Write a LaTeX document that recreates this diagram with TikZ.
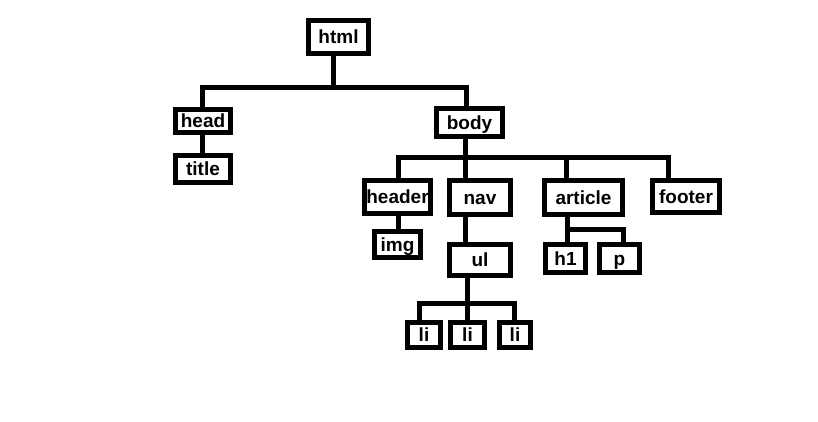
\documentclass[tikz,border=0pt]{standalone}
\usepackage{fontspec}
\setmainfont{Liberation Sans}
\begin{document}
\begin{tikzpicture}[x=1pt,y=-1pt,
  box/.style={draw=black,line width=5pt,fill=white,inner sep=0pt,
    text height=13.5pt,text depth=0pt,
    font=\fontsize{19}{20}\selectfont\bfseries},
  conn/.style={draw=black,line width=5pt,line join=miter}]
\useasboundingbox[fill=white] (0,0) rectangle (818,422);
% nodes (outer size minus line width)
\node[box,minimum width=60pt,minimum height=33pt] (html) at (338.5,37) {html};
\node[box,minimum width=55pt,minimum height=23pt] (head) at (203,121) {head};
\node[box,minimum width=55pt,minimum height=27pt] (title) at (203,169) {title};
\node[box,minimum width=66pt,minimum height=28pt] (body) at (469.5,122.5) {body};
\node[box,minimum width=66pt,minimum height=33pt] (header) at (397.5,197) {header};
\node[box,minimum width=61pt,minimum height=34pt] (nav) at (480,197.5) {nav};
\node[box,minimum width=78pt,minimum height=34pt] (article) at (583.5,197.5) {article};
\node[box,minimum width=67pt,minimum height=32pt] (footer) at (686,196.5) {footer};
\node[box,minimum width=46pt,minimum height=26pt] (img) at (397.5,244.5) {img};
\node[box,minimum width=61pt,minimum height=31pt] (ul) at (480,260) {ul};
\node[box,minimum width=40pt,minimum height=28pt] (h1) at (565.5,258.5) {h1};
\node[box,minimum width=40pt,minimum height=28pt] (p) at (619.5,258.5) {p};
\node[box,minimum width=33pt,minimum height=25pt] (li1) at (424,335) {li};
\node[box,minimum width=34pt,minimum height=25pt] (li2) at (467.5,335) {li};
\node[box,minimum width=31pt,minimum height=25pt] (li3) at (515,335) {li};
% junction coordinates
\coordinate (jA) at (333,88);
\coordinate (jL) at (202,88);
\coordinate (jR) at (466,88);
\coordinate (jB) at (465,158);
\coordinate (jB1) at (398,158);
\coordinate (jB3) at (566,158);
\coordinate (jB4) at (668,158);
\coordinate (jU) at (467,303);
\coordinate (jU1) at (419,303);
\coordinate (jU3) at (514,303);
\coordinate (jH) at (567,229);
\coordinate (jP) at (623,229);
% connectors
\draw[conn] (html.south -| jA) -- (jA);
\draw[conn] (head.north -| jL) -- (jL) -- (jR) -- (body.north -| jR);
\draw[conn] (head.south -| jL) -- (title.north -| jL);
\draw[conn] (body.south -| jB) -- (nav.north -| jB);
\draw[conn] (header.north -| jB1) -- (jB1) -- (jB4) -- (footer.north -| jB4);
\draw[conn] (jB3) -- (article.north -| jB3);
\draw[conn] (header.south -| jB1) -- (img.north -| jB1);
\draw[conn] (nav.south -| jB) -- (ul.north -| jB);
\draw[conn] (ul.south -| jU) -- (li2.north -| jU);
\draw[conn] (li1.north -| jU1) -- (jU1) -- (jU3) -- (li3.north -| jU3);
\draw[conn] (article.south -| jH) -- (h1.north -| jH);
\draw[conn] (jH) -- (jP) -- (p.north -| jP);
\end{tikzpicture}
\end{document}
